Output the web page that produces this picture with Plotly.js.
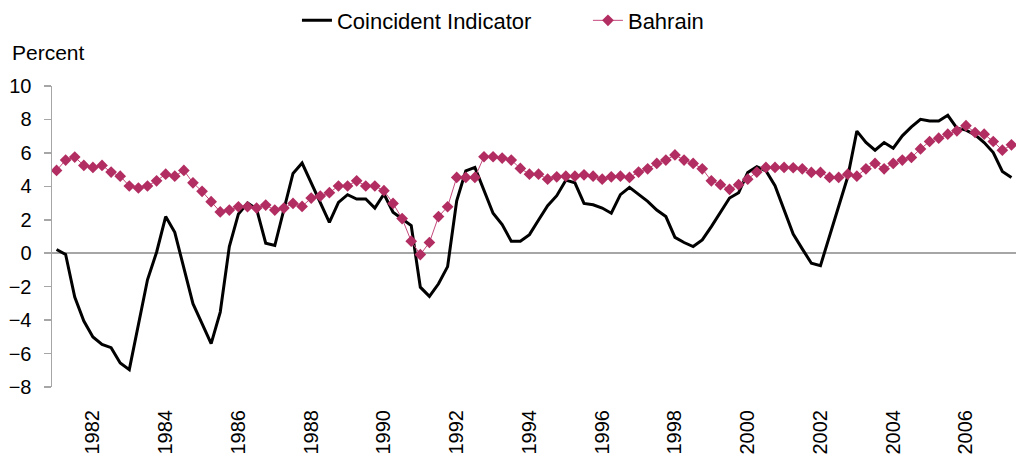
<!DOCTYPE html>
<html>
<head>
<meta charset="utf-8">
<script src="https://cdn.plot.ly/plotly-3.0.1.min.js"></script>
<style>html,body{margin:0;padding:0;background:#fff;}#chart{width:1017px;height:456px;}</style>
</head>
<body>
<div id="chart"></div>
<script>
var quarters = [
"1981Q1","1981Q2","1981Q3","1981Q4","1982Q1","1982Q2","1982Q3","1982Q4",
"1983Q1","1983Q2","1983Q3","1983Q4","1984Q1","1984Q2","1984Q3","1984Q4",
"1985Q1","1985Q2","1985Q3","1985Q4","1986Q1","1986Q2","1986Q3","1986Q4",
"1987Q1","1987Q2","1987Q3","1987Q4","1988Q1","1988Q2","1988Q3","1988Q4",
"1989Q1","1989Q2","1989Q3","1989Q4","1990Q1","1990Q2","1990Q3","1990Q4",
"1991Q1","1991Q2","1991Q3","1991Q4","1992Q1","1992Q2","1992Q3","1992Q4",
"1993Q1","1993Q2","1993Q3","1993Q4","1994Q1","1994Q2","1994Q3","1994Q4",
"1995Q1","1995Q2","1995Q3","1995Q4","1996Q1","1996Q2","1996Q3","1996Q4",
"1997Q1","1997Q2","1997Q3","1997Q4","1998Q1","1998Q2","1998Q3","1998Q4",
"1999Q1","1999Q2","1999Q3","1999Q4","2000Q1","2000Q2","2000Q3","2000Q4",
"2001Q1","2001Q2","2001Q3","2001Q4","2002Q1","2002Q2","2002Q3","2002Q4",
"2003Q1","2003Q2","2003Q3","2003Q4","2004Q1","2004Q2","2004Q3","2004Q4",
"2005Q1","2005Q2","2005Q3","2005Q4","2006Q1","2006Q2","2006Q3","2006Q4",
"2007Q1","2007Q2"
];

var coincident = [
0.22,-0.08,-2.62,-4.06,-5.01,-5.45,-5.65,-6.56,
-6.96,-4.21,-1.59,0.06,2.19,1.25,-0.83,-3.02,
-4.21,-5.41,-3.52,0.40,2.35,3.00,2.64,0.60,
0.46,2.60,4.77,5.39,4.23,3.04,1.85,3.04,
3.50,3.24,3.24,2.70,3.54,2.45,2.05,1.65,
-2.03,-2.58,-1.83,-0.80,3.14,4.93,5.13,3.74,
2.39,1.71,0.72,0.72,1.11,1.99,2.84,3.44,
4.37,4.21,2.98,2.90,2.70,2.39,3.50,3.94,
3.54,3.10,2.58,2.19,0.95,0.64,0.40,0.80,
1.59,2.45,3.30,3.62,4.83,5.17,4.93,4.04,
2.54,1.15,0.26,-0.60,-0.74,0.99,2.78,4.57,
7.30,6.62,6.16,6.62,6.28,7.02,7.55,8.01,
7.91,7.91,8.25,7.48,7.36,7.08,6.62,6.02,
4.89,4.53
];

var bahrain = [
4.95,5.57,5.75,5.25,5.13,5.25,4.85,4.61,
4.02,3.90,4.02,4.33,4.73,4.61,4.95,4.21,
3.70,3.08,2.47,2.58,2.78,2.78,2.70,2.88,
2.58,2.70,2.98,2.80,3.30,3.42,3.62,4.02,
4.02,4.33,4.02,4.02,3.74,2.98,2.07,0.72,
-0.08,0.64,2.19,2.78,4.53,4.53,4.53,5.77,
5.77,5.69,5.57,5.07,4.73,4.73,4.43,4.57,
4.61,4.61,4.69,4.61,4.43,4.57,4.61,4.53,
4.85,5.05,5.37,5.57,5.88,5.57,5.37,5.05,
4.33,4.10,3.82,4.10,4.43,4.85,5.13,5.13,
5.13,5.11,5.05,4.83,4.83,4.53,4.53,4.73,
4.61,5.05,5.37,5.05,5.37,5.57,5.73,6.24,
6.68,6.88,7.12,7.32,7.63,7.22,7.12,6.68,
6.16,6.48
];

var tickQuarters = ["1982Q1","1984Q1","1986Q1","1988Q1","1990Q1","1992Q1","1994Q1","1996Q1","1998Q1","2000Q1","2002Q1","2004Q1","2006Q1"];
var tickYears = ["1982","1984","1986","1988","1990","1992","1994","1996","1998","2000","2002","2004","2006"];

var FONT = "Liberation Sans, Arial, sans-serif";

var traces = [
  {
    x: quarters, y: coincident, name: "Coincident Indicator",
    type: "scatter", mode: "lines",
    line: {color: "#000000", width: 3}
  },
  {
    x: quarters, y: bahrain, name: "Bahrain",
    type: "scatter", mode: "lines+markers",
    line: {color: "#c4497c", width: 1},
    marker: {symbol: "diamond", size: 9, color: "#b22d62"}
  }
];

var layout = {
  width: 1017, height: 456,
  margin: {l: 52, r: 1, t: 85.5, b: 69.3, pad: 0, autoexpand: false},
  paper_bgcolor: "#ffffff", plot_bgcolor: "#ffffff",
  font: {family: FONT, size: 20, color: "#000000"},
  showlegend: true,
  legend: {
    orientation: "h", x: 0.2541, xanchor: "left", y: 1.2175, yanchor: "middle",
    entrywidth: 246, entrywidthmode: "pixels",
    font: {family: FONT, size: 22, color: "#000000"},
    bgcolor: "rgba(0,0,0,0)"
  },
  xaxis: {
    type: "category",
    range: [-0.5, 105.5],
    tickmode: "array", tickvals: tickQuarters, ticktext: tickYears,
    tickangle: -90,
    ticks: "", showline: false, showgrid: false, zeroline: false,
    ticklabelstandoff: 18,
    tickfont: {family: FONT, size: 20, color: "#000000"}
  },
  yaxis: {
    range: [-8, 10], tickmode: "linear", tick0: 0, dtick: 2,
    showline: true, linecolor: "#a6a6a6", linewidth: 1.5,
    ticks: "outside", ticklen: 7, tickwidth: 1.5, tickcolor: "#a6a6a6",
    showgrid: false,
    zeroline: true, zerolinecolor: "#a6a6a6", zerolinewidth: 1.5,
    ticklabelstandoff: 8,
    tickfont: {family: FONT, size: 20, color: "#000000"}
  },
  annotations: [
    {
      text: "Percent", xref: "paper", yref: "paper",
      x: -0.0436, xanchor: "left", y: 1.111, yanchor: "middle",
      showarrow: false, font: {family: FONT, size: 21, color: "#000000"}
    }
  ]
};

Plotly.newPlot("chart", traces, layout, {displayModeBar: false, staticPlot: true});
</script>
</body>
</html>
